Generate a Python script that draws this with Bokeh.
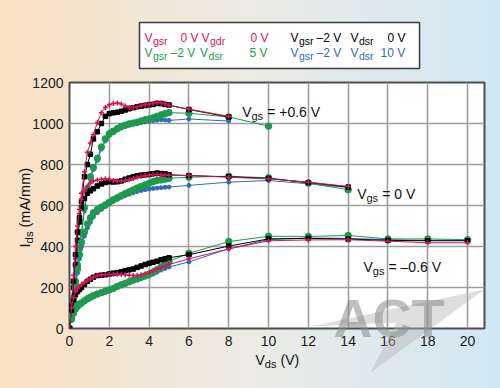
import math
from bokeh.plotting import figure
from bokeh.models import Range1d, FixedTicker, GlobalInlineStyleSheet, ColumnDataSource
from bokeh.core.properties import value
from bokeh.embed import file_html
from bokeh.resources import INLINE

# ---------------- data ----------------
x_dense = [0, 0.1, 0.2, 0.3, 0.4, 0.5, 0.6, 0.75, 0.9, 1.05, 1.2, 1.4, 1.6, 1.8, 2.0,
           2.2, 2.4, 2.6, 2.8, 3.0, 3.2, 3.4, 3.6, 3.8, 4.0, 4.2, 4.4, 4.6, 4.8, 5.0]
x_tail_p06_red = [6, 8]
x_tail_p06_green = [6, 8, 10]
x_tail_0 = [6, 8, 10, 12, 14]
x_tail_m06 = [6, 8, 10, 12, 14, 16, 18, 20]

# Vgs = +0.6 V
red_p06 = [0, 110, 220, 340, 470, 560, 660, 765, 860, 905, 945, 1005, 1052, 1078, 1092,
           1098, 1100, 1095, 1085, 1078, 1078, 1080, 1088, 1092, 1095, 1097, 1102, 1100, 1095, 1088,
           1070, 1035]
black_p06 = [0, 100, 200, 310, 430, 520, 620, 740, 800, 850, 925, 960, 1000, 1035, 1048,
             1052, 1055, 1060, 1066, 1072, 1077, 1082, 1085, 1088, 1091, 1093, 1098, 1097, 1093, 1090,
             1068, 1032]
green_p06 = [0, 70, 150, 230, 310, 390, 470, 590, 680, 740, 785, 830, 885, 925, 950,
             962, 975, 985, 992, 998, 1002, 1006, 1012, 1018, 1022, 1028, 1035, 1042, 1048, 1053,
             1050, 1032, 987]
blue_p06 = [0, 65, 140, 220, 300, 380, 460, 575, 665, 728, 775, 820, 875, 915, 942,
            955, 968, 978, 986, 992, 997, 1001, 1005, 1008, 1011, 1013, 1016, 1018, 1017, 1015,
            1022, 1012]

# Vgs = 0 V
red_0 = [0, 130, 260, 400, 500, 580, 630, 670, 695, 710, 720, 725, 728, 730, 728,
         722, 720, 720, 722, 726, 732, 738, 742, 746, 748, 750, 752, 750, 748, 747,
         746, 738, 730, 714, 693]
black_0 = [0, 110, 230, 360, 470, 540, 590, 635, 660, 672, 682, 695, 705, 712, 716,
           715, 716, 720, 728, 734, 740, 745, 748, 750, 752, 755, 758, 756, 754, 750,
           746, 740, 732, 712, 690]
green_0 = [0, 60, 130, 210, 290, 360, 420, 470, 510, 540, 565, 580, 592, 603, 615,
           628, 638, 648, 658, 667, 676, 685, 693, 700, 708, 716, 722, 725, 728, 733,
           738, 743, 735, 709, 677]
blue_0 = [0, 55, 120, 195, 270, 340, 400, 450, 490, 518, 545, 565, 580, 595, 607,
          620, 630, 640, 648, 655, 662, 668, 673, 677, 680, 683, 685, 687, 689, 690,
          698, 714, 722, 706, 688]

# Vgs = -0.6 V
red_m06 = [0, 100, 150, 180, 195, 205, 215, 225, 235, 242, 250, 258, 262, 263, 263,
           265, 266, 264, 262, 260, 259, 259, 262, 267, 273, 282, 290, 298, 305, 312,
           340, 388, 428, 432, 433, 426, 418, 418]
black_m06 = [0, 90, 140, 165, 180, 190, 200, 215, 230, 240, 250, 258, 260, 262, 266,
             270, 272, 277, 282, 286, 290, 298, 305, 312, 318, 323, 328, 335, 340, 345,
             360, 402, 437, 440, 436, 430, 428, 428]
green_m06 = [0, 45, 75, 95, 108, 118, 125, 135, 145, 152, 160, 168, 175, 182, 188,
             195, 205, 213, 220, 228, 236, 242, 250, 257, 265, 275, 287, 300, 315, 328,
             367, 424, 450, 449, 454, 437, 437, 433]
blue_m06 = [0, 40, 70, 90, 103, 113, 121, 131, 141, 149, 157, 165, 172, 180, 187,
            195, 203, 210, 218, 226, 233, 240, 245, 250, 256, 265, 275, 285, 293, 300,
            325, 389, 434, 441, 440, 433, 430, 430]

x_ticks = [0, 2, 4, 6, 8, 10, 12, 14, 16, 18, 20]
y_ticks = [0, 200, 400, 600, 800, 1000, 1200]

RED, BLACK, GREEN, BLUE = "#d4145a", "#000000", "#1e9a4e", "#2e6db4"

# ---------------- figure ----------------
XMAX = 20.85
p = figure(width=484, height=372, output_backend="svg", toolbar_location=None,
           x_range=Range1d(0, XMAX), y_range=Range1d(0, 1200),
           min_border_left=61, min_border_right=8, min_border_top=74, min_border_bottom=52)
p.border_fill_color = None
p.background_fill_color = "white"
p.outline_line_color = "#4d4d4d"
p.outline_line_width = 2
p.stylesheets = [GlobalInlineStyleSheet(css=
    "html { background: linear-gradient(to right, #f9e0c2 0%, #ecebe5 50%, #d1e7f5 100%); }"
    " body { margin: 8px; }")]

for ax, ticks in ((p.xaxis, x_ticks), (p.yaxis, y_ticks)):
    ax.ticker = FixedTicker(ticks=ticks)
    ax.axis_line_color = None
    ax.major_tick_line_color = None
    ax.minor_tick_line_color = None
    ax.major_tick_in = 0
    ax.major_tick_out = 0
    ax.major_label_text_font = "Liberation Sans"
    ax.major_label_text_font_size = "14px"
    ax.major_label_text_color = "#1a1a1a"
p.xaxis.major_label_standoff = 7
p.yaxis.major_label_standoff = 6
p.xgrid.ticker = FixedTicker(ticks=x_ticks)
p.ygrid.ticker = FixedTicker(ticks=y_ticks)
for g in (p.xgrid, p.ygrid):
    g.grid_line_color = "#9e9e9e"
    g.grid_line_width = 1.6

# pixel helpers (reference pixel -> data)
def dx(rx):
    return (rx - 69) * XMAX / 415.0

def dy(ry):
    return (328 - ry) * 1200 / 246.0

def series(xs, ys, color, marker, size, lw=1.0):
    src = ColumnDataSource(dict(x=xs, y=ys))
    p.line("x", "y", source=src, line_color=color, line_width=lw)
    if marker == "cross":
        p.scatter("x", "y", source=src, marker="cross", size=size, line_color=color, line_width=1.5)
    else:
        p.scatter("x", "y", source=src, marker=marker, size=size, fill_color=color, line_color=color)

groups = [
    (x_dense + x_tail_p06_red, x_dense + x_tail_p06_green, x_dense + x_tail_p06_red, x_dense + x_tail_p06_red,
     blue_p06, green_p06, black_p06, red_p06),
    (x_dense + x_tail_0,) * 4 + (blue_0, green_0, black_0, red_0),
    (x_dense + x_tail_m06,) * 4 + (blue_m06, green_m06, black_m06, red_m06),
]
for xb, xg, xk, xr, yb, yg, yk, yr in groups:
    series(xb, yb, BLUE, "circle", 4)
    series(xg, yg, GREEN, "circle", 6.5)
    series(xk, yk, BLACK, "square", 4.5)
    series(xr, yr, RED, "cross", 5)

# watermark (overlay level so it may extend past the frame)
p.patch(x=[dx(310), dx(484), dx(370), dx(396)], y=[dy(326), dy(289), dy(372), dy(322)],
        fill_color="#b5b5b5", fill_alpha=0.45, line_color=None, level="overlay")
p.text(x=[dx(333)], y=[dy(317)], text=["ACT"], text_font=value("Liberation Sans"),
       text_font_style="bold", text_font_size=value("54px"), text_color="#8a8a8a",
       text_alpha=0.55, text_baseline="alphabetic", text_align="left", level="overlay")

# text helper
def txt(rx, ry, s, size, color="#111111", angle=0.0):
    p.text(x=[dx(rx)], y=[dy(ry)], text=[s], text_font=value("Liberation Sans"),
           text_font_size=value(size), text_color=color, text_baseline="alphabetic",
           text_align="left", angle=angle, level="overlay")

# legend box
p.quad(left=[dx(139)], right=[dx(419)], top=[dy(22)], bottom=[dy(68)],
       fill_color="white", line_color="#3a3a3a", line_width=1.5, level="overlay")
MS, SS = "12px", "10.5px"
legend_rows = [
    (144, 37.5, RED, [("V", 0, MS), ("gsr", 8.5, SS), ("0 V", 36, MS), ("V", 57, MS), ("gdr", 65.5, SS), ("0 V", 106, MS)]),
    (144, 52.5, GREEN, [("V", 0, MS), ("gsr", 8.5, SS), ("\u20132 V", 26, MS), ("V", 55.5, MS), ("dsr", 64, SS), ("5 V", 105, MS)]),
    (290, 37.5, BLACK, [("V", 0, MS), ("gsr", 8.5, SS), ("\u20132 V", 26, MS), ("V", 60, MS), ("dsr", 68.5, SS), ("0 V", 97, MS)]),
    (290, 52.5, BLUE, [("V", 0, MS), ("gsr", 8.5, SS), ("\u20132 V", 26, MS), ("V", 60, MS), ("dsr", 68.5, SS), ("10 V", 90, MS)]),
]
for x0, base, col, parts in legend_rows:
    for s, off, size in parts:
        txt(x0 + off, base + (3 if size == SS else 0), s, size, col)

# curve annotations
for rx, ry, rest in ((241.7, 111, "= +0.6 V"), (356.7, 193, "= 0 V"), (363, 266.5, "= \u20130.6 V")):
    txt(rx, ry, "V", "14px")
    txt(rx + 9.3, ry + 4, "gs", "11px")
    txt(rx + 25, ry, rest, "14px")

# axis titles
txt(255, 359.5, "V", "14px")
txt(264.3, 363.5, "ds", "11px")
txt(280, 359.5, "(V)", "14px")

txt(24.5, 247, "I", "14.5px", angle=math.pi / 2)
txt(28.5, 243, "ds", "11.5px", angle=math.pi / 2)
txt(24.5, 227, "(mA/mm)", "14.5px", angle=math.pi / 2)

open("out.html", "w").write(file_html(p, INLINE))
